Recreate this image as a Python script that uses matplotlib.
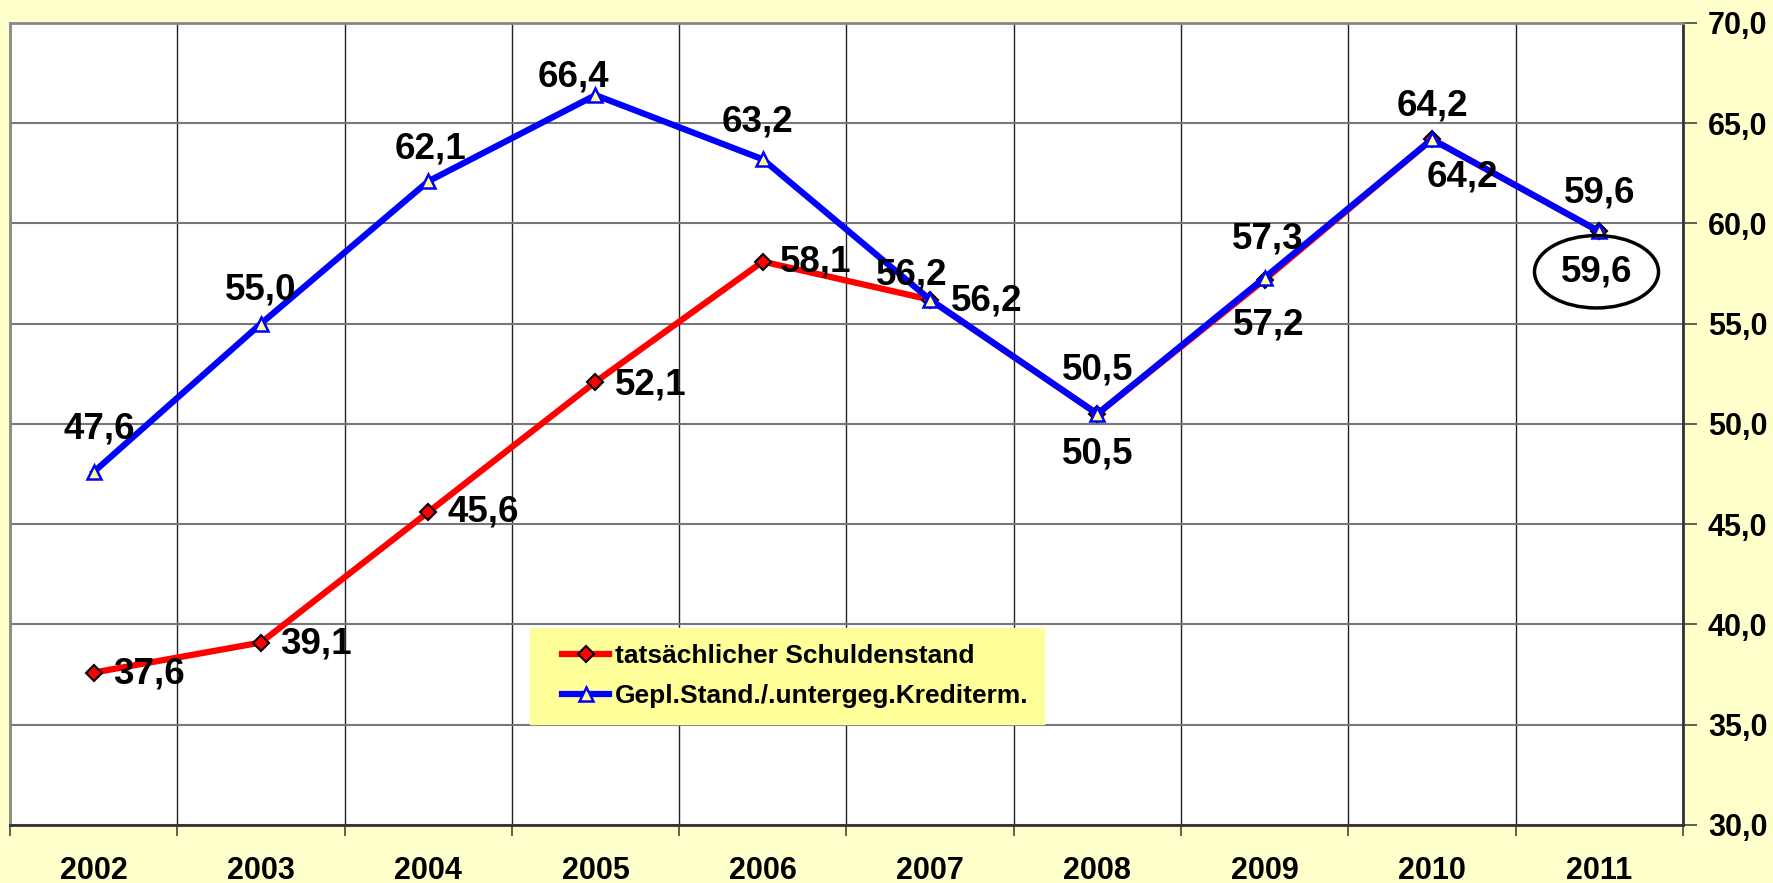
import matplotlib.pyplot as plt
import matplotlib.ticker as mticker
from matplotlib.lines import Line2D
from matplotlib.legend_handler import HandlerLine2D
import numpy as np

plt.rcParams['font.family'] = ['Liberation Sans', 'DejaVu Sans']
plt.rcParams['font.weight'] = 'bold'

jahre = ['2002', '2003', '2004', '2005', '2006', '2007', '2008', '2009', '2010', '2011']
ist = [37.6, 39.1, 45.6, 52.1, 58.1, 56.2, 50.5, 57.2, 64.2, 59.6]  # tatsächlicher Schuldenstand
plan = [47.6, 55.0, 62.1, 66.4, 63.2, 56.2, 50.5, 57.3, 64.2, 59.6]  # geplanter Stand
namen = ['tatsächlicher Schuldenstand', 'Gepl.Stand./.untergeg.Krediterm.']

# Verschiebung der Beschriftungen in Punkten
off_ist = [(40, -1), (40, -1), (40, 0), (40, -2), (38, 0), (41, -1), (0, -29), (3, -33), (22, -27), (-2, -29)]
off_plan = [(4, 31), (0, 24), (2, 23), (-16, 13), (-4, 27), (-13, 18), (0, 32), (2, 28), (0, 24), (0, 28)]

fig = plt.figure(figsize=(17.73, 8.83), dpi=100, facecolor='#FFFFCC')
ax = fig.add_axes([0.0056, 0.0657, 0.9436, 0.9083])
ax.set_facecolor('white')

x = np.arange(len(jahre))
ax.plot(x, ist, color='#FF0000', lw=4.5, marker='D', ms=8, mfc='#FF0000', mec='black', mew=1.5,
        label=namen[0], zorder=3)
ax.plot(x, plan, color='#0000FF', lw=4.5, marker='^', ms=10, mfc='#FFFF99', mec='#0000FF', mew=1.8,
        label=namen[1], zorder=4)

for i, v in enumerate(ist):
    txt = f'{v:.1f}'.replace('.', ',')
    kw = {}
    if i == len(ist) - 1:
        kw['bbox'] = dict(boxstyle='ellipse,pad=0.22', fc='none', ec='black', lw=2.5)
    ax.annotate(txt, (x[i], v), xytext=off_ist[i], textcoords='offset points',
                ha='center', va='center', fontsize=26.5, fontweight='bold', zorder=6, **kw)
for i, v in enumerate(plan):
    txt = f'{v:.1f}'.replace('.', ',')
    ax.annotate(txt, (x[i], v), xytext=off_plan[i], textcoords='offset points',
                ha='center', va='center', fontsize=26.5, fontweight='bold', zorder=6)

ax.set_xlim(-0.5, len(jahre) - 0.5)
ax.set_ylim(30, 70)
ax.set_xticks(x)
ax.set_xticklabels(jahre, fontsize=22, fontweight='bold')
ax.set_xticks(np.arange(-0.5, len(jahre), 1), minor=True)
ax.tick_params(axis='x', which='major', length=0, pad=22)
ax.tick_params(axis='x', which='minor', length=8, width=1.2, color='#444444')
ax.grid(axis='x', which='minor', color='#222222', lw=1)

ax.yaxis.tick_right()
ax.yaxis.set_major_locator(mticker.MultipleLocator(5))
ax.yaxis.set_major_formatter(mticker.FuncFormatter(lambda v, p: f'{v:.1f}'.replace('.', ',')))
ax.tick_params(axis='y', length=10, width=1.2, color='#444444', labelsize=22, pad=8)
for lab in ax.get_yticklabels():
    lab.set_fontweight('bold')
ax.grid(axis='y', which='major', color='#777777', lw=1.5)
ax.set_axisbelow(True)

for s in ax.spines.values():
    s.set_color('#888888')
    s.set_linewidth(2)
ax.spines['bottom'].set_color('#333333')
ax.spines['right'].set_color('#333333')

leg = ax.legend(loc='upper left', bbox_to_anchor=(0.311, 0.245), fontsize=19, frameon=True,
                fancybox=False, facecolor='#FFFF99', edgecolor='#FFFF99', framealpha=1,
                handlelength=2.4, handletextpad=0.2, borderpad=0.6, labelspacing=0.6, borderaxespad=0,
                handler_map={Line2D: HandlerLine2D(xpad=0.6)})
for t in leg.get_texts():
    t.set_fontweight('bold')

fig.savefig('out.png', dpi=100, facecolor=fig.get_facecolor())
